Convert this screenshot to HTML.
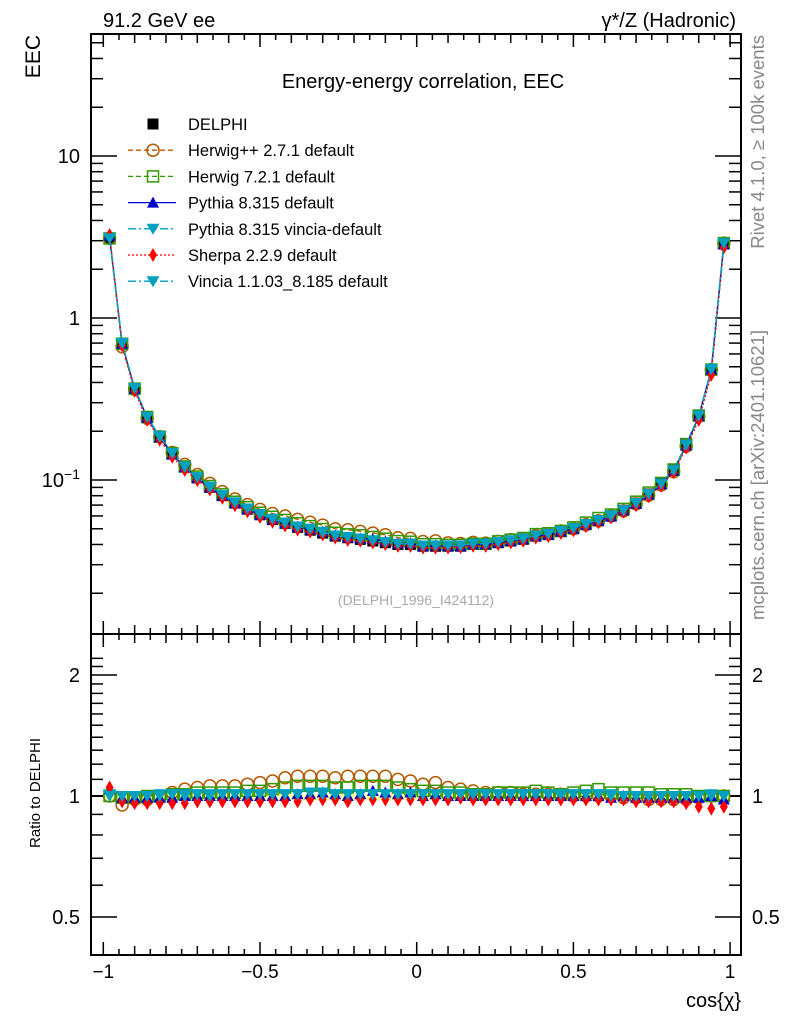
<!DOCTYPE html>
<html><head><meta charset="utf-8"><style>
html,body{margin:0;padding:0;background:#fff;}
svg{display:block;font-family:"Liberation Sans",sans-serif;}
</style></head><body>
<svg id="c" width="786" height="1024" viewBox="0 0 786 1024" xmlns="http://www.w3.org/2000/svg">
<text x="103" y="27" font-size="20">91.2 GeV ee</text>
<text x="736" y="27" font-size="20" text-anchor="end">γ*/Z (Hadronic)</text>
<text transform="translate(40,35) rotate(-90)" font-size="21" text-anchor="end">EEC</text>
<text transform="translate(40,793) rotate(-90)" font-size="15" text-anchor="middle">Ratio to DELPHI</text>
<text transform="translate(764,35) rotate(-90)" font-size="18.5" fill="#888" text-anchor="end">Rivet 4.1.0, ≥ 100k events</text>
<text transform="translate(764,330) rotate(-90)" font-size="18.5" fill="#888" text-anchor="end">mcplots.cern.ch [arXiv:2401.10621]</text>
<text x="423" y="88" font-size="20" text-anchor="middle">Energy-energy correlation, EEC</text>
<text x="416" y="605" font-size="14" fill="#aaa" text-anchor="middle">(DELPHI_1996_I424112)</text>
<text x="741" y="1007" font-size="20" text-anchor="end">cos{χ}</text>
<g id="ax"></g><g id="marks"></g><g id="leg"></g>
</svg>
<script>
const bins=[];for(let i=0;i<50;i++)bins.push(-0.98+0.04*i);
const delphi=[3.1,0.70,0.37,0.245,0.185,0.145,0.12,0.103,0.09,0.08,0.072,0.066,0.061,0.057,0.054,0.051,0.049,0.047,0.045,0.044,0.043,0.042,0.041,0.040,0.040,0.039,0.039,0.039,0.039,0.040,0.040,0.041,0.042,0.043,0.045,0.046,0.048,0.050,0.053,0.056,0.060,0.065,0.072,0.082,0.095,0.115,0.165,0.25,0.48,2.9];
const rHerwigpp=[1.0,0.95,0.98,0.98,1.0,1.02,1.04,1.05,1.06,1.06,1.06,1.07,1.08,1.09,1.11,1.12,1.12,1.12,1.11,1.12,1.12,1.12,1.12,1.10,1.09,1.07,1.08,1.05,1.04,1.03,1.02,1.02,1.02,1.01,1.01,1.01,1.01,1.0,1.0,1.0,1.0,0.99,0.99,0.98,0.98,0.98,0.98,0.99,1.0,1.0];
const rHerwig7=[1.0,0.99,0.99,1.0,1.0,1.01,1.01,1.02,1.02,1.02,1.02,1.03,1.03,1.04,1.05,1.06,1.06,1.06,1.05,1.05,1.06,1.06,1.06,1.05,1.04,1.03,1.03,1.02,1.02,1.01,1.01,1.02,1.02,1.02,1.03,1.02,1.01,1.02,1.03,1.04,1.02,1.02,1.02,1.02,1.01,1.01,1.01,1.0,1.0,1.0];
const rPythia=[1.04,0.99,0.99,0.99,0.99,0.99,1.0,1.0,1.0,1.0,1.0,1.0,1.0,1.0,1.0,1.01,1.01,1.02,1.01,1.0,1.01,1.03,1.02,1.01,1.02,1.0,1.01,1.0,1.0,1.0,1.0,1.0,1.0,1.0,1.0,1.0,1.0,1.0,1.0,1.0,0.99,1.0,0.99,0.99,0.99,0.99,0.99,0.99,1.0,0.98];
const rVinciaP=[1.01,1.0,1.0,1.0,1.01,1.01,1.01,1.01,1.01,1.01,1.01,1.01,1.01,1.01,1.01,1.01,1.02,1.02,1.01,1.01,1.01,1.01,1.01,1.01,1.01,1.01,1.01,1.01,1.01,1.01,1.01,1.01,1.01,1.01,1.01,1.01,1.0,1.01,1.01,1.01,1.01,1.0,1.0,1.0,1.0,1.0,1.0,1.0,1.0,1.0];
const rSherpa=[1.05,0.97,0.96,0.96,0.96,0.96,0.96,0.97,0.97,0.97,0.97,0.97,0.97,0.97,0.97,0.97,0.98,0.98,0.98,0.97,0.98,0.98,0.98,0.98,0.98,0.98,0.98,0.98,0.99,0.98,0.98,0.98,0.98,0.98,0.98,0.98,0.98,0.98,0.98,0.98,0.98,0.98,0.97,0.97,0.97,0.97,0.96,0.94,0.93,0.94];
const rVincia=[1.0,1.0,1.0,1.0,1.0,1.01,1.0,1.01,1.0,1.01,1.01,1.01,1.01,1.01,1.01,1.01,1.02,1.01,1.01,1.01,1.01,1.01,1.01,1.01,1.01,1.01,1.01,1.01,1.01,1.01,1.01,1.01,1.01,1.01,1.01,1.01,1.01,1.01,1.01,1.01,1.0,1.0,1.0,1.0,1.0,1.0,1.0,1.0,1.01,1.0];
const xTicks=[-1,-0.5,0,0.5,1];const xTickLabels=["−1","−0.5","0","0.5","1"];
const NS="http://www.w3.org/2000/svg";
const L=91,R=741,T=34,M=634,B=955;
const X=c=>416.7+313.4*c;
const Y=v=>318-162*Math.log10(v);
const YR=r=>796-402*Math.log10(r);
function mk(p,t,a){const e=document.createElementNS(NS,t);for(const k in a)e.setAttribute(k,a[k]);p.appendChild(e);return e;}
const ax=document.getElementById('ax'),mg=document.getElementById('marks'),lg=document.getElementById('leg');
let bp='';bins.forEach((c,i)=>{bp+=(i?'L':'M')+(X(c)-6.3)+','+YR(1.01)+'L'+(X(c)+6.3)+','+YR(1.01);});
for(let i=49;i>=0;i--){bp+='L'+(X(bins[i])+6.3)+','+YR(0.975)+'L'+(X(bins[i])-6.3)+','+YR(0.975);}
const band=mk(mg,'path',{d:bp+'Z',fill:'#ffff99',stroke:'none'});


for(const [y0,y1] of [[T,M],[M,B]]){const f=mk(ax,'rect',{x:L,y:y0,width:R-L,height:y1-y0,fill:'none',stroke:'#000','stroke-width':2});

}
for(let k=-20;k<=20;k++){const c=k*0.05;const x=X(c);if(x<L||x>R)continue;const len=(k%10==0)?13:(k%2==0?9:6);
for(const [y,d] of [[T,1],[M,-1],[M,1],[B,-1]]) mk(ax,'line',{x1:x,x2:x,y1:y,y2:y+d*len,stroke:'#000','stroke-width':1.5});}
xTicks.forEach((c,i)=>{const t=mk(ax,'text',{x:X(c),y:978,'font-size':19,'text-anchor':'middle'});t.textContent=xTickLabels[i];

});
for(let d=-2;d<=1;d++)for(let m=1;m<10;m++){const v=m*Math.pow(10,d);const y=Y(v);if(y<T||y>M)continue;const len=m==1?26:12;
mk(ax,'line',{x1:L,x2:L+len,y1:y,y2:y,stroke:'#000','stroke-width':1.5});mk(ax,'line',{x1:R,x2:R-len,y1:y,y2:y,stroke:'#000','stroke-width':1.5});}
[[10,'10'],[1,'1']].forEach(([v,s])=>{const t=mk(ax,'text',{x:80,y:Y(v)+7,'font-size':20,'text-anchor':'end'});t.textContent=s;

});
const t1=mk(ax,'text',{x:80,y:Y(0.1)+7,'font-size':20,'text-anchor':'end'});t1.innerHTML='10<tspan dy="-8" font-size="14">−1</tspan>';


for(let k=4;k<=22;k++){const r=k/10;const y=YR(r);if(y<M||y>B)continue;const len=(k==5||k==10||k==20)?26:12;
mk(ax,'line',{x1:L,x2:L+len,y1:y,y2:y,stroke:'#000','stroke-width':1.5});mk(ax,'line',{x1:R,x2:R-len,y1:y,y2:y,stroke:'#000','stroke-width':1.5});}
[[2,'2'],[1,'1'],[0.5,'0.5']].forEach(([r,s])=>{for(const [x,a] of [[80,'end'],[752,'start']]){const t=mk(ax,'text',{x:x,y:YR(r)+7,'font-size':20,'text-anchor':a});t.textContent=s;

}});
mk(ax,'line',{x1:L,x2:R,y1:YR(1),y2:YR(1),stroke:'#000','stroke-width':2});
function marker(g,type,x,y,col){
 if(type=='sq')mk(g,'rect',{x:x-5.5,y:y-5.5,width:11,height:11,fill:col});
 else if(type=='circ')mk(g,'circle',{cx:x,cy:y,r:6,fill:'none',stroke:col,'stroke-width':1.5});
 else if(type=='osq')mk(g,'rect',{x:x-5.5,y:y-5.5,width:11,height:11,fill:'none',stroke:col,'stroke-width':1.5});
 else if(type=='up')mk(g,'path',{d:`M${x},${y-6}L${x+6},${y+5}L${x-6},${y+5}Z`,fill:col});
 else if(type=='down')mk(g,'path',{d:`M${x},${y+6}L${x+6.5},${y-5}L${x-6.5},${y-5}Z`,fill:col});
 else if(type=='dia')mk(g,'path',{d:`M${x},${y-7}L${x+4},${y}L${x},${y+7}L${x-4},${y}Z`,fill:col});
}
const series=[
 {name:'Herwig++ 2.7.1 default',r:rHerwigpp,col:'#b35900',m:'circ',dash:'5,3',id:'herwigpp'},
 {name:'Herwig 7.2.1 default',r:rHerwig7,col:'#339900',m:'osq',dash:'5,3',id:'herwig7'},
 {name:'Pythia 8.315 default',r:rPythia,col:'#0000cc',m:'up',dash:'',id:'pythia'},
 {name:'Pythia 8.315 vincia-default',r:rVinciaP,col:'#00a0c0',m:'down',dash:'8,3,2,3',id:'pythia-vincia'},
 {name:'Sherpa 2.2.9 default',r:rSherpa,col:'#ff0000',m:'dia',dash:'2,2',id:'sherpa'},
 {name:'Vincia 1.1.03_8.185 default',r:rVincia,col:'#00a0c0',m:'down',dash:'8,3,2,3',id:'vincia'}];
const gd=mk(mg,'g',{});


bins.forEach((c,i)=>marker(gd,'sq',X(c),Y(delphi[i]),'#000'));
series.forEach(s=>{
 const g=mk(mg,'g',{});
 
 
 const pts=bins.map((c,i)=>X(c)+','+Y(delphi[i]*s.r[i])).join(' ');
 mk(g,'polyline',{points:pts,fill:'none',stroke:s.col,'stroke-width':1.3,'stroke-dasharray':s.dash});
 bins.forEach((c,i)=>marker(g,s.m,X(c),Y(delphi[i]*s.r[i]),s.col));
 const gr=mk(mg,'g',{});
 
 
 bins.forEach((c,i)=>marker(gr,s.m,X(c),YR(s.r[i]),s.col));
});
const ly0=124,ldy=26.2;
const e0=mk(lg,'g',{});


marker(e0,'sq',153,ly0,'#000');
const tt=mk(e0,'text',{x:188,y:ly0+6,'font-size':16.5});tt.textContent='DELPHI';
series.forEach((s,k)=>{const y=ly0+ldy*(k+1);const e=mk(lg,'g',{});
 
 
 mk(e,'line',{x1:128,x2:176,y1:y,y2:y,stroke:s.col,'stroke-width':1.3,'stroke-dasharray':s.dash});
 marker(e,s.m,153,y,s.col);
 const t=mk(e,'text',{x:188,y:y+6,'font-size':16.5});t.textContent=s.name;});
</script>
</body></html>
